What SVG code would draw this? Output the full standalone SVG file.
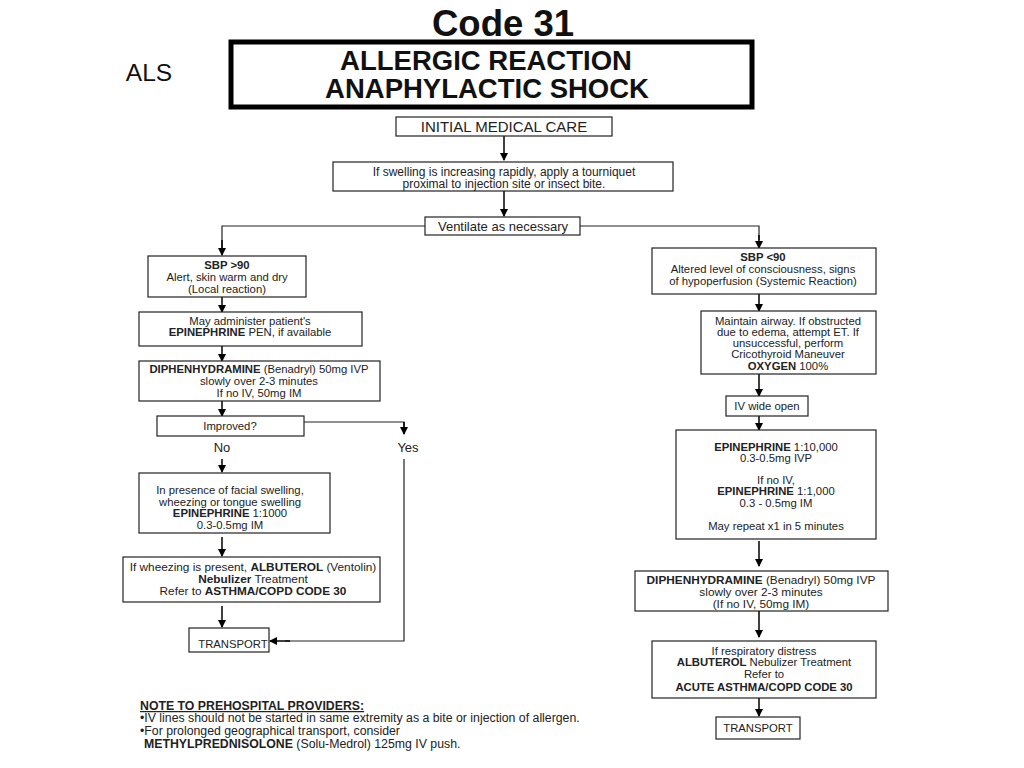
<svg xmlns="http://www.w3.org/2000/svg" width="1024" height="768" viewBox="0 0 1024 768">
<defs>
<marker id="ah" markerWidth="8" markerHeight="8" refX="7" refY="4" orient="auto" markerUnits="userSpaceOnUse">
<path d="M0,0 L8,4 L0,8 Z" fill="#000"/>
</marker>
<style>
text{font-family:"Liberation Sans",Arial,sans-serif;fill:#222;}
.box{fill:#fff;stroke:#222;stroke-width:1.2;}
.t{font-size:11.3px;text-anchor:middle;}
.w{font-size:11.8px;}
.b{font-weight:bold;}
.c{fill:none;stroke:#222;stroke-width:1.2;}
.ca{fill:none;stroke:#000;stroke-width:1.5;marker-end:url(#ah);}
</style>
</defs>
<rect width="1024" height="768" fill="#fff"/>

<g id="title">
<text x="503" y="36" font-size="36.5" font-weight="bold" text-anchor="middle" style="fill:#111">Code 31</text>
<text x="149" y="81" font-size="24.5" text-anchor="middle" style="fill:#111">ALS</text>
<rect x="231" y="42" width="521" height="65" fill="#fff" stroke="#000" stroke-width="5"/>
<text x="486" y="70" font-size="27.5" font-weight="bold" text-anchor="middle" style="fill:#111">ALLERGIC REACTION</text>
<text x="487" y="98" font-size="27.5" font-weight="bold" text-anchor="middle" style="fill:#111">ANAPHYLACTIC SHOCK</text>
</g>

<g id="connectors">
<line class="ca" x1="504" y1="136" x2="504" y2="160"/>
<line class="ca" x1="504" y1="191" x2="504" y2="216"/>
<polyline class="c" points="425,226 222,226 222,248"/>
<line class="ca" x1="222" y1="240" x2="222" y2="255"/>
<polyline class="c" points="580,226 759,226 759,240"/>
<line class="ca" x1="759" y1="235" x2="759" y2="248"/>
<line class="ca" x1="222" y1="297" x2="222" y2="312"/>
<line class="ca" x1="222" y1="346" x2="222" y2="361"/>
<line class="ca" x1="222" y1="401" x2="222" y2="416"/>
<polyline class="c" points="304,422 404,422 404,428"/>
<line class="ca" x1="404" y1="422" x2="404" y2="434"/>
<line class="ca" x1="222" y1="459" x2="222" y2="472"/>
<line class="ca" x1="222" y1="537" x2="222" y2="556"/>
<line class="ca" x1="222" y1="606" x2="222" y2="627"/>
<polyline class="c" points="404,459 404,641 285,641"/>
<line class="ca" x1="290" y1="641" x2="270" y2="641"/>
<line class="ca" x1="759" y1="294" x2="759" y2="311"/>
<line class="ca" x1="759" y1="374" x2="759" y2="396"/>
<line class="ca" x1="759" y1="416" x2="759" y2="430"/>
<line class="ca" x1="759" y1="541" x2="759" y2="566"/>
<line class="ca" x1="759" y1="611" x2="759" y2="637"/>
<line class="ca" x1="759" y1="698" x2="759" y2="716"/>
</g>

<g id="n_initial">
<rect class="box" x="396" y="117" width="216" height="19"/>
<text x="504" y="132" font-size="15" text-anchor="middle">INITIAL MEDICAL CARE</text>
</g>

<g id="n_tourniquet">
<rect class="box" x="333" y="162" width="340" height="29"/>
<text class="t" x="504" y="176" font-size="12" style="font-size:12px">If swelling is increasing rapidly, apply a tourniquet</text>
<text class="t" x="504" y="188" style="font-size:12px">proximal to injection site or insect bite.</text>
</g>

<g id="n_ventilate">
<rect class="box" x="425" y="217" width="155" height="18"/>
<text x="503" y="231" font-size="13" text-anchor="middle">Ventilate as necessary</text>
</g>

<g id="n_sbp_high">
<rect class="box" x="148" y="256" width="158" height="41"/>
<text class="t b" x="227" y="269">SBP &gt;90</text>
<text class="t" x="227" y="281">Alert, skin warm and dry</text>
<text class="t" x="227" y="293">(Local reaction)</text>
</g>

<g id="n_epipen">
<rect class="box" x="139" y="312" width="223" height="34"/>
<text class="t" x="250" y="325">May  administer patient's</text>
<text class="t" x="250" y="336"><tspan class="b">EPINEPHRINE</tspan> PEN, if available</text>
</g>

<g id="n_diph_left">
<rect class="box" x="139" y="361" width="241" height="40"/>
<text class="t" x="259" y="373"><tspan class="b">DIPHENHYDRAMINE</tspan> (Benadryl) 50mg IVP</text>
<text class="t" x="259" y="385">slowly over 2-3 minutes</text>
<text class="t" x="259" y="397">If no IV, 50mg IM</text>
</g>

<g id="n_improved">
<rect class="box" x="157" y="416" width="147" height="20"/>
<text class="t" x="230" y="430">Improved?</text>
</g>

<g id="lbl_no"><text x="222" y="452" font-size="13" text-anchor="middle">No</text></g>
<g id="lbl_yes"><text x="408" y="452" font-size="13" text-anchor="middle">Yes</text></g>

<g id="n_facial">
<rect class="box" x="139" y="473" width="191" height="60"/>
<text class="t" x="230" y="494">In presence of facial swelling,</text>
<text class="t" x="230" y="506">wheezing or tongue swelling</text>
<text class="t" x="230" y="517"><tspan class="b">EPINEPHRINE</tspan> 1:1000</text>
<text class="t" x="230" y="529">0.3-0.5mg IM</text>
</g>

<g id="n_albuterol_left">
<rect class="box" x="123" y="557" width="257" height="45"/>
<text class="t w" x="253" y="571">If wheezing is present, <tspan class="b">ALBUTEROL</tspan> (Ventolin)</text>
<text class="t w" x="253" y="583"><tspan class="b">Nebulizer</tspan> Treatment</text>
<text class="t w" x="253" y="595">Refer to <tspan class="b">ASTHMA/COPD CODE 30</tspan></text>
</g>

<g id="n_transport_left">
<rect class="box" x="189" y="628" width="80" height="24"/>
<text class="t" x="233" y="648">TRANSPORT</text>
</g>

<g id="n_sbp_low">
<rect class="box" x="652" y="248" width="224" height="46"/>
<text class="t b" x="763" y="261">SBP &lt;90</text>
<text class="t" x="763" y="273">Altered  level of consciousness, signs</text>
<text class="t" x="763" y="285">of hypoperfusion (Systemic Reaction)</text>
</g>

<g id="n_airway">
<rect class="box" x="701" y="311" width="175" height="63"/>
<text class="t" x="788" y="325">Maintain airway. If obstructed</text>
<text class="t" x="788" y="336">due to edema, attempt ET. If</text>
<text class="t" x="788" y="347">unsuccessful, perform</text>
<text class="t" x="788" y="358">Cricothyroid Maneuver</text>
<text class="t" x="788" y="370"><tspan class="b">OXYGEN</tspan> 100%</text>
</g>

<g id="n_iv">
<rect class="box" x="726" y="396" width="82" height="20"/>
<text class="t" x="767" y="410">IV wide open</text>
</g>

<g id="n_epi_right">
<rect class="box" x="676" y="430" width="200" height="109"/>
<text class="t" x="776" y="451"><tspan class="b">EPINEPHRINE</tspan> 1:10,000</text>
<text class="t" x="776" y="462">0.3-0.5mg IVP</text>
<text class="t" x="776" y="484">If no IV,</text>
<text class="t" x="776" y="495"><tspan class="b">EPINEPHRINE</tspan> 1:1,000</text>
<text class="t" x="776" y="507">0.3 - 0.5mg IM</text>
<text class="t" x="776" y="530">May repeat x1 in 5 minutes</text>
</g>

<g id="n_diph_right">
<rect class="box" x="635" y="571" width="253" height="40"/>
<text class="t w" x="761" y="584"><tspan class="b">DIPHENHYDRAMINE</tspan> (Benadryl) 50mg IVP</text>
<text class="t w" x="761" y="596">slowly over 2-3 minutes</text>
<text class="t w" x="761" y="608">(If no IV, 50mg IM)</text>
</g>

<g id="n_albuterol_right">
<rect class="box" x="652" y="641" width="224" height="57"/>
<text class="t" x="764" y="655">If respiratory distress</text>
<text class="t" x="764" y="666"><tspan class="b">ALBUTEROL</tspan> Nebulizer Treatment</text>
<text class="t" x="764" y="678">Refer to</text>
<text class="t b" x="764" y="691">ACUTE ASTHMA/COPD CODE 30</text>
</g>

<g id="n_transport_right">
<rect class="box" x="716" y="717" width="84" height="22"/>
<text class="t" x="758" y="732">TRANSPORT</text>
</g>

<g id="note">
<text x="140" y="710" font-size="12.3" font-weight="bold" text-decoration="underline">NOTE TO PREHOSPITAL PROVIDERS:</text>
<text x="140" y="722" font-size="12.3">•IV lines should not be started in same extremity as a bite or injection of allergen.</text>
<text x="140" y="735" font-size="12.3">•For prolonged geographical transport, consider</text>
<text x="144" y="748" font-size="12.3"><tspan font-weight="bold">METHYLPREDNISOLONE</tspan> (Solu-Medrol) 125mg IV push.</text>
</g>
</svg>
